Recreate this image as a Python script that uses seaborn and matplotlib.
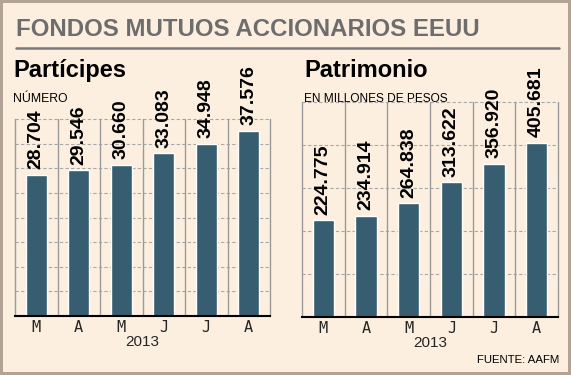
import pandas as pd
import seaborn as sns
import matplotlib.pyplot as plt
from matplotlib.lines import Line2D

# Data
meses = ['Mar', 'Abr', 'May', 'Jun', 'Jul', 'Ago']
etiquetas_mes = ['M', 'A', 'M', 'J', 'J', 'A']
participes = [28704, 29546, 30660, 33083, 34948, 37576]
patrimonio = [224775, 234914, 264838, 313622, 356920, 405681]

# Colours
fondo = '#fcefdf'
barra = '#375e70'
gris_titulo = '#6d6d6d'

sns.set_style('white', {'axes.facecolor': fondo, 'figure.facecolor': fondo})
plt.rcParams['font.family'] = ['Liberation Sans', 'DejaVu Sans']

W, H = 571, 375
fig = plt.figure(figsize=(W / 100, H / 100), dpi=100)
fig.patch.set_edgecolor('#b3a396')
fig.patch.set_linewidth(3)


def px(x, y):
    # pixel coords (from top left) -> figure fraction
    return x / W, 1 - y / H


def panel(rect, valores, ymax, paso):
    x0, y0, x1, y1 = rect
    ax = fig.add_axes([x0 / W, 1 - y1 / H, (x1 - x0) / W, (y1 - y0) / H])
    df = pd.DataFrame({'mes': meses, 'valor': valores})
    sns.barplot(data=df, x='mes', y='valor', color=barra, saturation=1,
                width=0.5, ax=ax)
    ax.set_xlim(-0.5, 5.5)
    ax.set_ylim(0, ymax)
    # dashed horizontal grid
    for v in range(paso, ymax + 1, paso):
        ax.axhline(v, color='#a8a8a8', lw=0.8, ls=(0, (3, 2)), zorder=0, clip_on=False)
    # vertical separators between months
    for i in range(7):
        ax.axvline(i - 0.5, color='#9a9a9a', lw=1, zorder=0, clip_on=False)
    for s in ['top', 'left', 'right']:
        ax.spines[s].set_visible(False)
    ax.spines['bottom'].set_color('black')
    ax.spines['bottom'].set_linewidth(1.5)
    ax.set_yticks([])
    ax.set_ylabel('')
    ax.set_xticks(range(6))
    ax.set_xticklabels(etiquetas_mes, family='DejaVu Sans Mono', fontsize=11)
    ax.tick_params(axis='x', length=0, pad=3)
    ax.set_xlabel('2013', fontsize=11, labelpad=0)
    # value labels, rotated
    textos = [f'{v:,}'.replace(',', '.') for v in valores]
    ax.bar_label(ax.containers[0], labels=textos, rotation=90, padding=4,
                 fontsize=14, fontweight='bold', color='black')
    return ax


ax1 = panel((15, 119, 270, 316), participes, 40000, 5000)
ax2 = panel((302, 102, 558, 317), patrimonio, 500000, 100000)

# Header
fig.text(*px(16, 36), 'FONDOS MUTUOS ACCIONARIOS EEUU', fontsize=17.3,
         fontweight='bold', color=gris_titulo, va='baseline')
fig.add_artist(Line2D([16 / W, 559 / W], [1 - 48 / H] * 2,
                      transform=fig.transFigure, color='#7a7a7a', lw=1.8))

fig.text(*px(13, 77), 'Partícipes', fontsize=17, fontweight='bold',
         color='black', va='baseline')
fig.text(*px(13, 102), 'NÚMERO', fontsize=8.8,
         color='black', va='baseline')
fig.text(*px(304, 77), 'Patrimonio', fontsize=17, fontweight='bold',
         color='black', va='baseline')
fig.text(*px(304, 102), 'EN MILLONES DE PESOS', fontsize=8.6,
         color='black', va='baseline')
fig.text(*px(559, 363), 'FUENTE: AAFM', fontsize=8.2,
         color='black', va='baseline', ha='right')

fig.savefig('out.png', dpi=100, facecolor=fondo, edgecolor=fig.get_edgecolor())
